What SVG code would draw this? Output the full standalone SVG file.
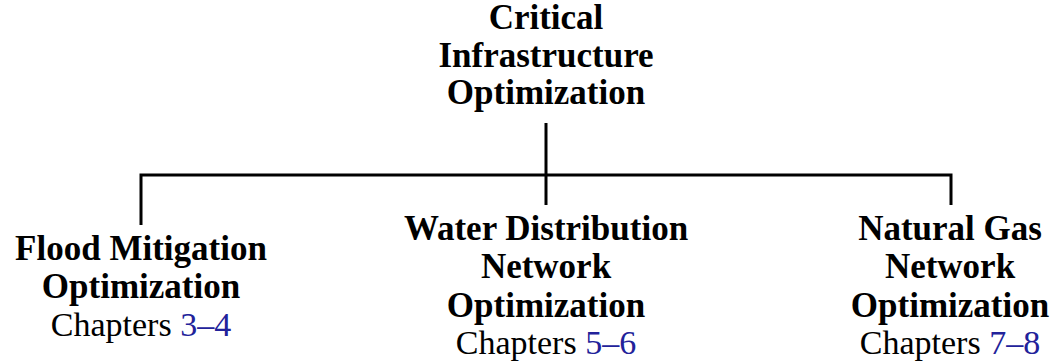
<svg xmlns="http://www.w3.org/2000/svg" width="1057" height="364" viewBox="0 0 1057 364">
<style>
.b{font-family:"Liberation Serif",serif;font-weight:bold;font-size:35px;fill:#000;text-anchor:middle}
.r{font-family:"Liberation Serif",serif;font-size:34px;fill:#000;text-anchor:middle}
.l{fill:#22229a}
.e{stroke:#000;stroke-width:3;fill:none}
</style>
<rect width="1057" height="364" fill="#fff"/>
<g id="connectors">
<path class="e" d="M546,123 V205"/>
<path class="e" d="M141,225 V175 H951 V205"/>
</g>
<g id="root">
<text class="b" x="546" y="29">Critical</text>
<text class="b" x="546" y="67">Infrastructure</text>
<text class="b" x="546" y="104">Optimization</text>
</g>
<g id="flood">
<text class="b" x="141" y="260">Flood Mitigation</text>
<text class="b" x="141" y="298">Optimization</text>
<text class="r" x="141" y="336">Chapters <tspan class="l">3–4</tspan></text>
</g>
<g id="water">
<text class="b" x="546" y="240">Water Distribution</text>
<text class="b" x="546" y="278">Network</text>
<text class="b" x="546" y="317">Optimization</text>
<text class="r" x="546" y="354">Chapters <tspan class="l">5–6</tspan></text>
</g>
<g id="gas">
<text class="b" x="950" y="240">Natural Gas</text>
<text class="b" x="950" y="278">Network</text>
<text class="b" x="950" y="317">Optimization</text>
<text class="r" x="950" y="354">Chapters <tspan class="l">7–8</tspan></text>
</g>
</svg>
